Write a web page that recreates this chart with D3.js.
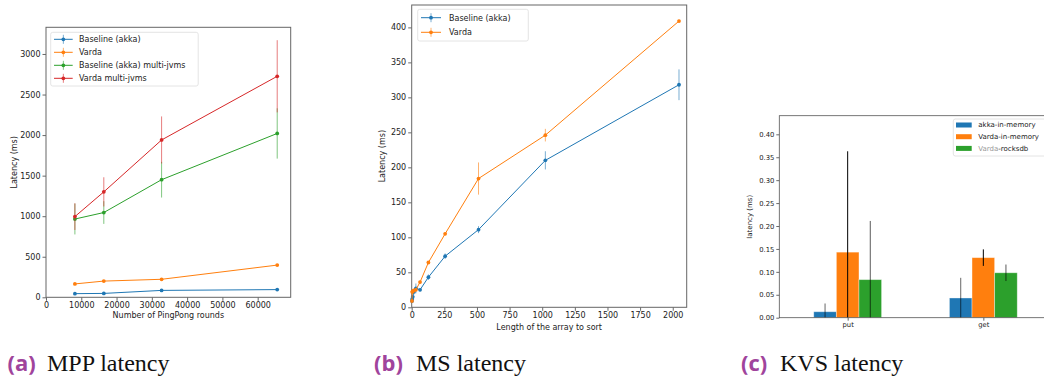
<!DOCTYPE html>
<html><head><meta charset="utf-8">
<script src="https://cdn.jsdelivr.net/npm/d3@7"></script>
<style>body{margin:0;background:#fff}svg{display:block}</style>
</head><body>
<svg id="c" width="1044" height="376"></svg>
<script>
// ---------- DATA ----------
// (a) MPP latency
const mppRounds = [8192, 16384, 32768, 65536];
const mppBaseline = [45, 48, 85, 95];
const mppBaselineErr = [5, 5, 5, 5];
const mppVarda = [165, 200, 222, 397];
const mppVardaErr = [8, 8, 8, 10];
const mppBaselineMulti = [965, 1045, 1450, 2020];
const mppBaselineMultiErr = [190, 140, 220, 310];
const mppVardaMulti = [995, 1300, 1940, 2725];
const mppVardaMultiErr = [165, 180, 290, 445];
const mppYTicks = [0, 500, 1000, 1500, 2000, 2500, 3000];
const mppXTicks = [0, 10000, 20000, 30000, 40000, 50000, 60000];
// (b) MS latency
const msLength = [2, 4, 8, 16, 32, 64, 128, 256, 512, 1024, 2048];
const msBaseline = [9, 12, 15, 22, 27, 25, 43, 73, 111, 210, 318];
const msBaselineErr = [2, 2, 3, 4, 7, 2, 4, 4, 5, 13, 22];
const msVarda = [9, 22, 23, 24, 25, 36, 64, 105, 184, 246, 409];
const msVardaErr = [1, 2, 2, 2, 2, 2, 2, 2, 23, 9, 2];
const msYTicks = [0, 50, 100, 150, 200, 250, 300, 350, 400];
const msXTicks = [0, 250, 500, 750, 1000, 1250, 1500, 1750, 2000];
// (c) KVS latency
const kvsOps = ["put", "get"];
const kvsAkkaMem = [0.013, 0.043];
const kvsAkkaMemErr = [0.018, 0.044];
const kvsVardaMem = [0.143, 0.131];
const kvsVardaMemErr = [0.220, 0.018];
const kvsVardaRocks = [0.083, 0.098];
const kvsVardaRocksErr = [0.128, 0.018];
const kvsYTicks = [0, 0.05, 0.10, 0.15, 0.20, 0.25, 0.30, 0.35, 0.40];
const captions = [["(a)", "MPP latency"], ["(b)", "MS latency"], ["(c)", "KVS latency"]];

const C = {blue:"#1f77b4", orange:"#ff7f0e", green:"#2ca02c", red:"#d62728"};
const FONT = "DejaVu Sans";
const svg = d3.select("#c");

function styleAxis(g, fs) {
  g.selectAll("path").remove();
  g.selectAll("line").attr("stroke", "#444").attr("stroke-width", 0.8);
  g.selectAll("text").attr("font-family", FONT).attr("font-size", fs).attr("fill", "#222");
}

function linePanel(cfg) {
  const x = d3.scaleLinear().domain(cfg.xd).range(cfg.xr);
  const y = d3.scaleLinear().domain(cfg.yd).range(cfg.yr);
  const g = svg.append("g");
  const gx = g.append("g").attr("transform", `translate(0,${cfg.yr[0]})`)
    .call(d3.axisBottom(x).tickValues(cfg.xt).tickSize(3.5).tickPadding(1.5).tickFormat(d3.format("d")));
  styleAxis(gx, 8);
  const gy = g.append("g").attr("transform", `translate(${cfg.xr[0]},0)`)
    .call(d3.axisLeft(y).tickValues(cfg.yt).tickSize(3.5).tickPadding(2).tickFormat(d3.format("d")));
  styleAxis(gy, 8);
  g.append("rect").attr("x", cfg.xr[0]).attr("y", cfg.yr[1])
    .attr("width", cfg.xr[1]-cfg.xr[0]).attr("height", cfg.yr[0]-cfg.yr[1])
    .attr("fill", "none").attr("stroke", "#666").attr("stroke-width", 1);
  cfg.series.forEach(s => {
    const pts = cfg.xs.map((xv, i) => ({x: xv, y: s.v[i], e: s.e[i]}));
    g.append("g").selectAll("line").data(pts).join("line")
      .attr("x1", d => x(d.x)).attr("x2", d => x(d.x))
      .attr("y1", d => y(Math.max(0, d.y - d.e))).attr("y2", d => y(d.y + d.e))
      .attr("stroke", s.c).attr("stroke-opacity", 0.6).attr("stroke-width", 1);
    g.append("path").datum(pts)
      .attr("d", d3.line().x(d => x(d.x)).y(d => y(d.y)))
      .attr("fill", "none").attr("stroke", s.c).attr("stroke-width", 1);
    g.append("g").selectAll("circle").data(pts).join("circle")
      .attr("cx", d => x(d.x)).attr("cy", d => y(d.y)).attr("r", 1.9).attr("fill", s.c);
  });
  // legend
  const L = cfg.legend;
  g.append("rect").attr("x", L.x).attr("y", L.y).attr("width", L.w).attr("height", L.h)
    .attr("rx", 2).attr("fill", "#fff").attr("fill-opacity", 0.8).attr("stroke", "#ddd").attr("stroke-width", 0.8);
  cfg.series.forEach((s, i) => {
    const yy = L.y0 + i * L.dy;
    g.append("line").attr("x1", L.hx).attr("x2", L.hx + L.hw).attr("y1", yy).attr("y2", yy)
      .attr("stroke", s.c).attr("stroke-width", 1);
    g.append("line").attr("x1", L.hx + L.hw/2).attr("x2", L.hx + L.hw/2).attr("y1", yy-4.5).attr("y2", yy+4.5)
      .attr("stroke", s.c).attr("stroke-opacity", 0.6).attr("stroke-width", 1);
    g.append("circle").attr("cx", L.hx + L.hw/2).attr("cy", yy).attr("r", 1.9).attr("fill", s.c);
    g.append("text").attr("x", L.tx).attr("y", yy).attr("dy", "0.35em")
      .attr("font-family", FONT).attr("font-size", 8).attr("fill", "#222").text(s.name);
  });
  // axis labels
  g.append("text").attr("x", (cfg.xr[0]+cfg.xr[1])/2).attr("y", cfg.xlabY).attr("text-anchor", "middle")
    .attr("font-family", FONT).attr("font-size", 8).attr("fill", "#222").text(cfg.xlab);
  g.append("text").attr("transform", `translate(${cfg.ylabX},${(cfg.yr[0]+cfg.yr[1])/2}) rotate(-90)`)
    .attr("text-anchor", "middle").attr("dy", "0.35em")
    .attr("font-family", FONT).attr("font-size", 8).attr("fill", "#222").text(cfg.ylab);
}

linePanel({
  xd: [0, 69360], xr: [46, 290.7], yd: [0, 3329], yr: [297.3, 27.3],
  xt: mppXTicks, yt: mppYTicks, xs: mppRounds,
  series: [
    {name: "Baseline (akka)", v: mppBaseline, e: mppBaselineErr, c: C.blue},
    {name: "Varda", v: mppVarda, e: mppVardaErr, c: C.orange},
    {name: "Baseline (akka) multi-jvms", v: mppBaselineMulti, e: mppBaselineMultiErr, c: C.green},
    {name: "Varda multi-jvms", v: mppVardaMulti, e: mppVardaMultiErr, c: C.red}
  ],
  legend: {x: 50.7, y: 32.3, w: 147.5, h: 53.7, y0: 39.3, dy: 13, hx: 54, hw: 18.7, tx: 79},
  xlab: "Number of PingPong rounds", xlabY: 318, ylab: "Latency (ms)", ylabX: 14
});

linePanel({
  xd: [0, 2107], xr: [411.7, 686.7], yd: [0, 432], yr: [307.3, 5],
  xt: msXTicks, yt: msYTicks, xs: msLength,
  series: [
    {name: "Baseline (akka)", v: msBaseline, e: msBaselineErr, c: C.blue},
    {name: "Varda", v: msVarda, e: msVardaErr, c: C.orange}
  ],
  legend: {x: 417.7, y: 9.3, w: 110.6, h: 31.7, y0: 17.7, dy: 14.6, hx: 421, hw: 20, tx: 449},
  xlab: "Length of the array to sort", xlabY: 329.5, ylab: "Latency (ms)", ylabX: 381.7
});

// ---------- (c) bar chart ----------
(function() {
  const x = d3.scaleLinear().domain([-0.504, 1.504]).range([779.3, 1051.7]);
  const y = d3.scaleLinear().domain([0, 0.4406]).range([317.7, 115.7]);
  const bw = 1/6;
  const g = svg.append("g");
  const series = [
    {name: "akka-in-memory", v: kvsAkkaMem, e: kvsAkkaMemErr, c: C.blue, off: -bw, ec: "rgba(0,0,0,0.6)"},
    {name: "Varda-in-memory", v: kvsVardaMem, e: kvsVardaMemErr, c: C.orange, off: 0, ec: "#000"},
    {name: "Varda-rocksdb", v: kvsVardaRocks, e: kvsVardaRocksErr, c: C.green, off: bw, ec: "rgba(0,0,0,0.65)"}
  ];
  series.forEach(s => {
    const d = kvsOps.map((op, i) => ({i, v: s.v[i], e: s.e[i]}));
    g.append("g").selectAll("rect").data(d).join("rect")
      .attr("x", d => x(d.i + s.off - bw/2)).attr("width", x(bw) - x(0))
      .attr("y", d => y(d.v)).attr("height", d => y(0) - y(d.v))
      .attr("fill", s.c).attr("stroke", "rgba(255,255,255,0.45)").attr("stroke-width", 0.8);
  });
  series.forEach(s => {
    const d = kvsOps.map((op, i) => ({i, v: s.v[i], e: s.e[i]}));
    g.append("g").selectAll("line").data(d).join("line")
      .attr("x1", d => x(d.i + s.off)).attr("x2", d => x(d.i + s.off))
      .attr("y1", d => y(Math.max(0, d.v - d.e))).attr("y2", d => y(d.v + d.e))
      .attr("stroke", s.ec).attr("stroke-width", 1);
  });
  const gx = g.append("g").attr("transform", `translate(0,${y(0)})`)
    .call(d3.axisBottom(x).tickValues([0, 1]).tickSize(3).tickPadding(1.5).tickFormat(i => kvsOps[i]));
  styleAxis(gx, 6.8);
  const gy = g.append("g").attr("transform", `translate(${x.range()[0]},0)`)
    .call(d3.axisLeft(y).tickValues(kvsYTicks).tickSize(3).tickPadding(2).tickFormat(d3.format(".2f")));
  styleAxis(gy, 6.8);
  g.append("rect").attr("x", x.range()[0]).attr("y", y.range()[1])
    .attr("width", x.range()[1] - x.range()[0]).attr("height", y.range()[0] - y.range()[1])
    .attr("fill", "none").attr("stroke", "#555").attr("stroke-width", 0.8);
  g.append("text").attr("transform", `translate(749.3,${(y.range()[0]+y.range()[1])/2}) rotate(-90)`)
    .attr("text-anchor", "middle").attr("dy", "0.35em")
    .attr("font-family", FONT).attr("font-size", 7).attr("fill", "#222").text("latency (ms)");
  // legend
  g.append("rect").attr("x", 953.3).attr("y", 119).attr("width", 100).attr("height", 37)
    .attr("rx", 2).attr("fill", "#fff").attr("stroke", "#ddd").attr("stroke-width", 0.8);
  series.forEach((s, i) => {
    const yy = 125 + i * 11.7;
    g.append("rect").attr("x", 956).attr("y", yy - 2.5).attr("width", 15.7).attr("height", 5).attr("fill", s.c);
    const t = g.append("text").attr("x", 978.3).attr("y", yy).attr("dy", "0.35em")
      .attr("font-family", FONT).attr("font-size", 7).attr("fill", "#222");
    if (i === 2) {
      t.append("tspan").attr("fill", "#999").text("Varda");
      t.append("tspan").text("-rocksdb");
    } else t.text(s.name);
  });
})();

// ---------- captions ----------
const capX = [[7.5, 47], [374, 416], [741, 780]];
captions.forEach((c, i) => {
  svg.append("text").attr("x", capX[i][0]).attr("y", 371)
    .attr("font-family", "Open Sans").attr("font-weight", 700).attr("font-size", 22)
    .attr("fill", "#a0449c").text(c[0]);
  svg.append("text").attr("x", capX[i][1]).attr("y", 371)
    .attr("font-family", "Liberation Serif").attr("font-size", 24)
    .attr("fill", "#111").text(c[1]);
});
</script>
</body></html>
